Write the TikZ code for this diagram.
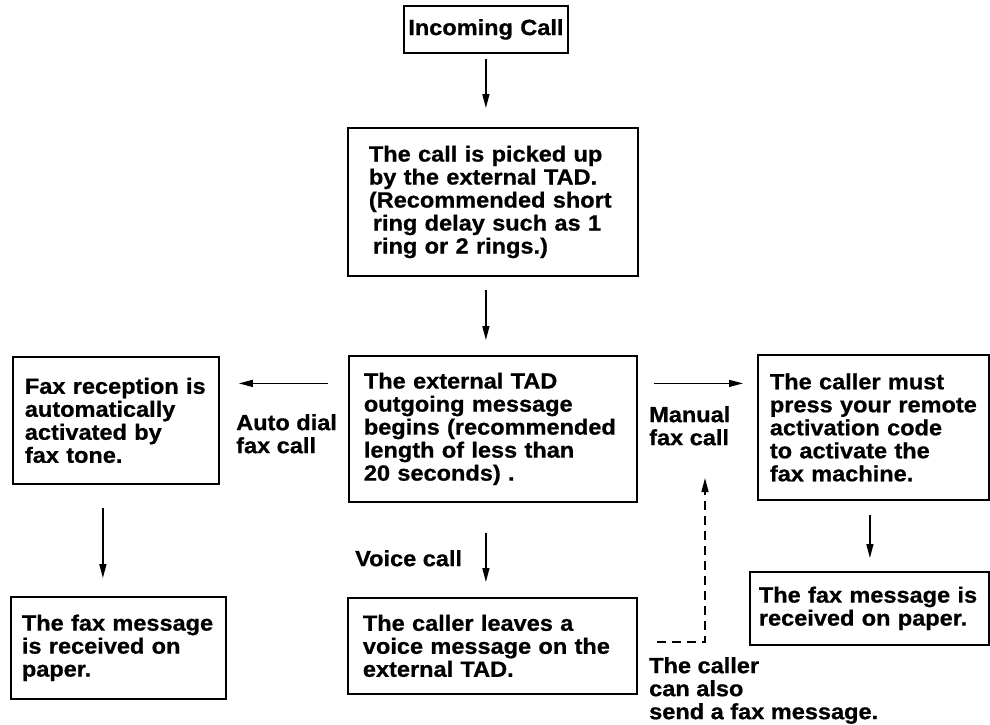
\documentclass[tikz,border=0pt]{standalone}
\usepackage{fontspec}
\setmainfont{Liberation Sans}[FakeStretch=1.07, BoldFeatures={FakeBold=0.8}]
\usetikzlibrary{arrows.meta}

\tikzset{
  box/.style={draw, line width=1.8pt, align=left, inner ysep=0pt, anchor=north west,
    font=\bfseries\fontsize{22}{23}\selectfont},
  lbl/.style={align=left, inner sep=0pt, anchor=north west,
    font=\bfseries\fontsize{22}{23}\selectfont},
  arr/.style={line width=1.4pt, -{Triangle[length=14pt,width=7pt]}},
  dasharr/.style={arr, dash pattern=on 9pt off 6pt}
}

\begin{document}
\begin{tikzpicture}[x=1pt,y=-1pt]
		\useasboundingbox (0,0) rectangle (990,725);
		
		% Centre column
		\node[box, align=center, inner xsep=3pt, text width=158pt, minimum height=47pt] (in) at (403,5) {Incoming Call};
		\node[box, inner xsep=21pt, text width=248pt, minimum height=148pt] (pick) at (347,127)
			{The call is picked up\\by the external TAD.\\(Recommended short\\\hspace*{4pt}ring delay such as 1\\\hspace*{4pt}ring or 2 rings.)};
		\node[box, inner xsep=15pt, text width=258pt, minimum height=146pt] (tad) at (348,355)
			{The external TAD\\outgoing message\\begins (recommended\\length of less than\\20 seconds)~.};
		\node[box, inner xsep=15pt, text width=259pt, minimum height=96pt] (voice) at (347,597)
			{The caller leaves a\\voice message on the\\external TAD.};
		
		% Left column
		\node[box, inner xsep=12pt, text width=182pt, minimum height=127pt] (rx) at (12,356)
			{Fax reception is\\automatically\\activated by\\fax tone.};
		\node[box, inner xsep=11pt, text width=193pt, minimum height=102pt] (lpaper) at (10,596)
			{The fax message\\is received on\\paper.};
		
		% Right column
		\node[box, inner xsep=12pt, text width=207pt, minimum height=145pt] (man) at (757,354)
			{The caller must\\press your remote\\activation code\\to activate the\\fax machine.};
		\node[box, inner xsep=9pt, text width=221pt, minimum height=73pt] (rpaper) at (749,571)
			{The fax message is\\received on paper.};
		
		% Labels
		\node[lbl] (autolbl) at (236,414) {Auto dial\\fax call};
		\node[lbl] (manlbl) at (649,406) {Manual\\fax call};
		\node[lbl] (voicelbl) at (355,550) {Voice call};
		\node[lbl] (alsolbl) at (649,657) {The caller\\can also\\send a fax message.};
		
		% Arrows
		\draw[arr, shorten <=5pt, shorten >=19pt] (in.south) -- (in.south |- pick.north);
		\draw[arr, shorten <=13pt, shorten >=15pt] (in.south |- pick.south) -- (in.south |- tad.north);
		\draw[arr, shorten <=30pt, shorten >=15pt] (in.south |- tad.south) -- (in.south |- voice.north);
		\draw[arr, shorten <=20pt, shorten >=19pt] ([yshift=45.5pt]tad.west) -- ([yshift=45.5pt]tad.west -| rx.east);
		\draw[arr, shorten <=16pt, shorten >=14pt] ([yshift=45.5pt]tad.east) -- ([yshift=45.5pt]tad.east -| man.west);
		\draw[arr, shorten <=23pt, shorten >=18pt] ([xshift=-13pt]rx.south) -- ([xshift=-13pt]rx.south |- lpaper.north);
		\draw[arr, shorten <=14pt, shorten >=13pt] ([xshift=-3.5pt]man.south) -- ([xshift=-3.5pt]man.south |- rpaper.north);
		
		% Caller can also send a fax
		\coordinate (dashstart) at (657,642);
		\coordinate (dashtop) at (705,478);
		\draw[dasharr] (dashstart) -| (dashtop);
	\end{tikzpicture}
\end{document}
